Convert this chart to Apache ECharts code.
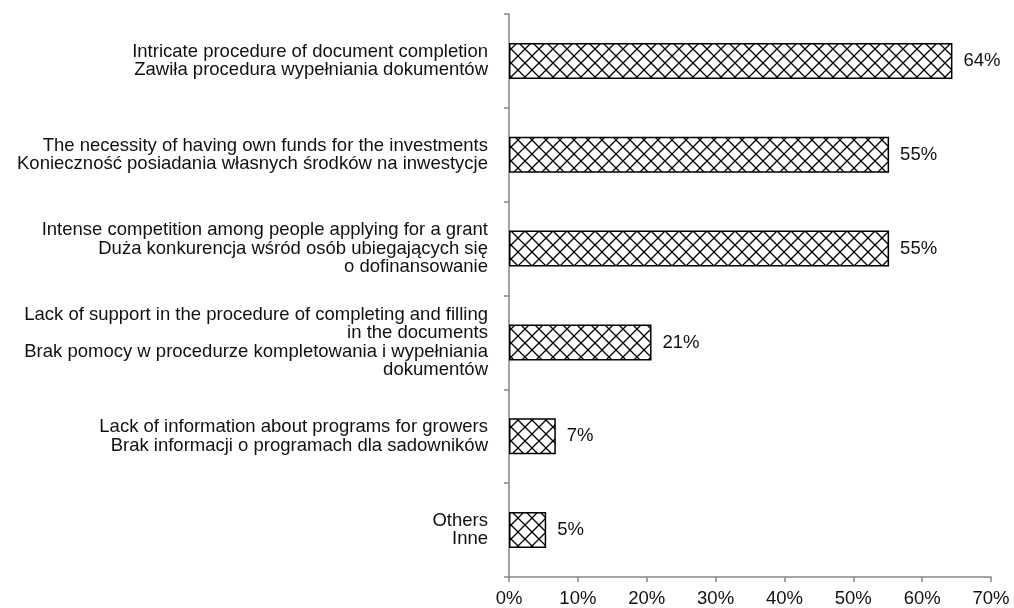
<!DOCTYPE html>
<html><head><meta charset="utf-8">
<script src="https://cdn.jsdelivr.net/npm/echarts@6/dist/echarts.min.js"></script>
<style>html,body{margin:0;padding:0;background:#fff}#c{width:1014px;height:608px}</style>
</head><body><div id="c"></div>
<script>
const categories = [
  "Intricate procedure of document completion\nZawiła procedura wypełniania dokumentów",
  "The necessity of having own funds for the investments\nKonieczność posiadania własnych środków na inwestycje",
  "Intense competition among people applying for a grant\nDuża konkurencja wśród osób ubiegających się\no dofinansowanie",
  "Lack of support in the procedure of completing and filling\nin the documents\nBrak pomocy w procedurze kompletowania i wypełniania\ndokumentów",
  "Lack of information about programs for growers\nBrak informacji o programach dla sadowników",
  "Others\nInne"
];
const values = [64.4, 55.2, 55.2, 20.7, 6.8, 5.4];
const xTicks = [0, 10, 20, 30, 40, 50, 60, 70];

function hatch() {
  const s = 14, c = document.createElement('canvas');
  c.width = s; c.height = s;
  const g = c.getContext('2d');
  g.fillStyle = '#fff'; g.fillRect(0, 0, s, s);
  g.strokeStyle = '#000'; g.lineWidth = 1.3;
  g.beginPath();
  g.moveTo(0, 0); g.lineTo(s, s);
  g.moveTo(s, 0); g.lineTo(0, s);
  g.stroke();
  return c;
}

const FS = 18.5;
const chart = echarts.init(document.getElementById('c'), null, {renderer: 'canvas'});
chart.setOption({
  animation: false,
  textStyle: {fontFamily: 'Liberation Sans, Arial, sans-serif'},
  grid: {left: 509, right: 23, top: 14, bottom: 29, containLabel: false},
  xAxis: {
    type: 'value', min: xTicks[0], max: xTicks[xTicks.length - 1], interval: 10,
    axisLine: {show: true, lineStyle: {color: '#868686', width: 1.5}},
    axisTick: {show: true, length: 5, lineStyle: {color: '#868686', width: 1.5}},
    splitLine: {show: false},
    axisLabel: {formatter: v => v + '%', color: '#111', fontSize: FS, margin: 12}
  },
  yAxis: {
    type: 'category', data: categories, inverse: true,
    axisLine: {show: true, lineStyle: {color: '#868686', width: 1.5}},
    axisTick: {show: true, length: 5, lineStyle: {color: '#868686', width: 1.5}},
    axisLabel: {color: '#111', fontSize: FS, lineHeight: 18.5, margin: 21, align: 'right'}
  },
  series: [{
    type: 'bar', data: values, barWidth: 36,
    itemStyle: {color: {image: hatch(), repeat: 'repeat'}, borderColor: '#000', borderWidth: 1.5},
    label: {show: true, position: 'right', distance: 11, color: '#111', fontSize: FS,
      formatter: p => Math.round(p.value) + '%'}
  }]
});
</script></body></html>
